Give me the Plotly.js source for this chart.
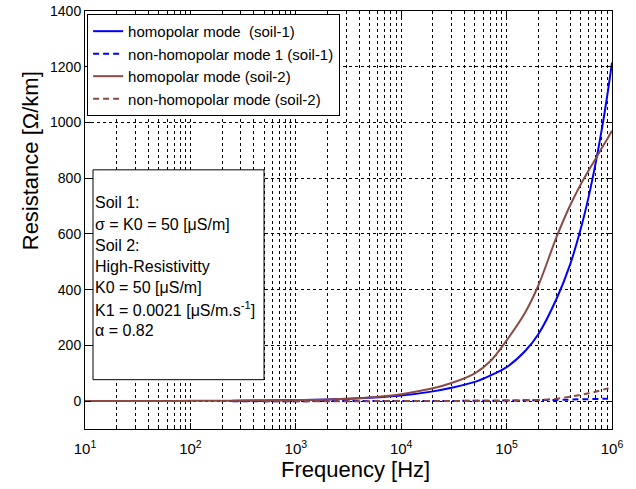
<!DOCTYPE html>
<html>
<head>
<meta charset="utf-8">
<script src="https://cdn.plot.ly/plotly-3.0.1.min.js"></script>
<style>html,body{margin:0;padding:0;background:#fff;}#chart{width:636px;height:489px;}</style>
</head>
<body>
<div id="chart"></div>
<script>
// Frequencies [Hz]
const freqSoil1 = [250, 500, 1e3, 2e3, 5e3, 1e4, 2e4, 3e4, 5e4, 7e4, 1e5, 1.5e5, 2e5, 3e5, 4e5, 5e5, 6e5, 7e5, 8e5, 9e5, 1e6];
const freqSoil2 = [10, 20, 50, 100, 250, 500, 1e3, 2e3, 5e3, 1e4, 2e4, 3e4, 5e4, 7e4, 1e5, 1.5e5, 2e5, 3e5, 4e5, 5e5, 6e5, 7e5, 8e5, 9e5, 1e6];
const freqSoil2Dash = [500, 1e3, 2e3, 5e3, 1e4, 2e4, 3e4, 5e4, 7e4, 1e5, 1.5e5, 2e5, 3e5, 4e5, 5e5, 6e5, 7e5, 8e5, 9e5, 1e6];
// Resistance [Ohm/km]
const homopolarSoil1    = [1.5, 2.5, 4, 6, 12, 20, 35, 48, 69, 92, 122, 180, 240, 370, 490, 612, 733, 855, 975, 1095, 1215];
const nonHomopolarSoil1 = [0, 0, 0, 0.1, 0.2, 0.3, 0.5, 0.8, 1.2, 1.6, 2, 3, 3.5, 4.5, 5.5, 6.5, 7, 7.8, 8.3, 8.8, 9];
const homopolarSoil2    = [0.5, 0.6, 0.8, 1, 1.5, 2.5, 4, 6, 13, 25, 46, 65, 100, 143, 218, 318, 415, 592, 702, 775, 828, 870, 908, 940, 970];
const nonHomopolarSoil2 = [0, 0, 0, 0, 0.3, 0.5, 0.8, 1, 1.5, 2, 3, 4, 9, 16, 22, 28, 34, 40, 45, 50];
const seriesNames = ["homopolar mode\u00a0 (soil-1)", "non-homopolar mode 1 (soil-1)", "homopolar mode (soil-2)", "non-homopolar mode (soil-2)"];
const xTickVals = [10, 100, 1000, 10000, 100000, 1000000];
const xTickText = ["10<sup>1</sup>", "10<sup>2</sup>", "10<sup>3</sup>", "10<sup>4</sup>", "10<sup>5</sup>", "10<sup>6</sup>"];
const yTickVals = [0, 200, 400, 600, 800, 1000, 1200, 1400];
const infoLines = ["Soil 1:", "\u03c3 = K0 = 50 [\u03bcS/m]", "Soil 2:", "High-Resistivitty", "K0 = 50 [\u03bcS/m]", "K1 = 0.0021 [\u03bcS/m.s<sup>-1</sup>]", "\u03b1 = 0.82"];
const xTitle = 'Frequency [Hz]';
const yTitle = 'Resistance [\u03a9/km]';

const BLUE = '#0000ff', BROWN = '#8c4a44';
const minorVals = [];
for (let d = 1; d < 6; d++) for (let k = 2; k <= 9; k++) minorVals.push(k * Math.pow(10, d));

const traces = [
  {x: freqSoil1, y: homopolarSoil1, name: seriesNames[0], mode: 'lines', line: {color: BLUE, width: 2, shape: 'spline', smoothing: 1}},
  {x: freqSoil1, y: nonHomopolarSoil1, name: seriesNames[1], mode: 'lines', line: {color: BLUE, width: 2, dash: '6px,4px', shape: 'spline', smoothing: 1}},
  {x: freqSoil2, y: homopolarSoil2, name: seriesNames[2], mode: 'lines', line: {color: BROWN, width: 2, shape: 'spline', smoothing: 1}},
  {x: freqSoil2Dash, y: nonHomopolarSoil2, name: seriesNames[3], mode: 'lines', line: {color: BROWN, width: 2, dash: '6px,4px', shape: 'spline', smoothing: 1}}
];

const FAM = '"Liberation Sans", Arial, sans-serif';
const annotations = infoLines.map((t, i) => ({
  xref: 'paper', yref: 'paper', x: 0.016, y: 0.541 - i * 0.0507,
  xanchor: 'left', yanchor: 'middle', showarrow: false, align: 'left',
  text: t, font: {family: FAM, size: 16, color: '#000'}
}));
annotations.push({xref: 'paper', yref: 'paper', x: 0.5125, y: -0.098, xanchor: 'center', yanchor: 'middle',
  showarrow: false, text: xTitle, font: {family: FAM, size: 22, color: '#000'}});
annotations.push({xref: 'paper', yref: 'paper', x: -0.104, y: 0.641, xanchor: 'center', yanchor: 'middle',
  showarrow: false, textangle: -90, text: yTitle, font: {family: FAM, size: 22, color: '#000'}});

const layout = {
  width: 636, height: 489,
  margin: {l: 85, r: 24, t: 11, b: 60},
  paper_bgcolor: '#fff', plot_bgcolor: '#fff',
  font: {family: FAM, color: '#000', size: 14},
  showlegend: true,
  legend: {x: 0.004, y: 0.993, xanchor: 'left', yanchor: 'top', bgcolor: '#fff', bordercolor: '#000', borderwidth: 1,
           font: {family: FAM, size: 15, color: '#000'}, tracegroupgap: 0, itemwidth: 30},
  xaxis: {
    type: 'log', range: [1, 6], tickmode: 'array', tickvals: xTickVals, ticktext: xTickText,
    ticks: 'inside', ticklen: 6, tickcolor: '#000', showline: true, linecolor: '#000', linewidth: 1, mirror: 'ticks',
    showgrid: true, gridcolor: '#000', gridwidth: 1, griddash: '3px,3px', zeroline: false,
    minor: {tickmode: 'array', tickvals: minorVals, ticks: 'inside', ticklen: 3, tickcolor: '#000', showgrid: true, gridcolor: '#000', gridwidth: 1, griddash: '3px,3px'},
    tickfont: {family: FAM, size: 15, color: '#000'}, ticklabelstandoff: 6
  },
  yaxis: {
    range: [-100, 1400], tickmode: 'array', tickvals: yTickVals,
    ticks: 'inside', ticklen: 6, tickcolor: '#000', showline: true, linecolor: '#000', linewidth: 1, mirror: 'ticks',
    showgrid: true, gridcolor: '#000', gridwidth: 1, griddash: '3px,3px', zeroline: false,
    tickfont: {family: FAM, size: 14, color: '#000'}
  },
  shapes: [{type: 'rect', xref: 'paper', yref: 'paper', x0: 0.0152, x1: 0.3397, y0: 0.118, y1: 0.620,
            fillcolor: '#fff', line: {color: '#000', width: 1}, layer: 'above'}],
  annotations: annotations
};

Plotly.newPlot('chart', traces, layout, {displayModeBar: false, staticPlot: true});
</script>
</body>
</html>
